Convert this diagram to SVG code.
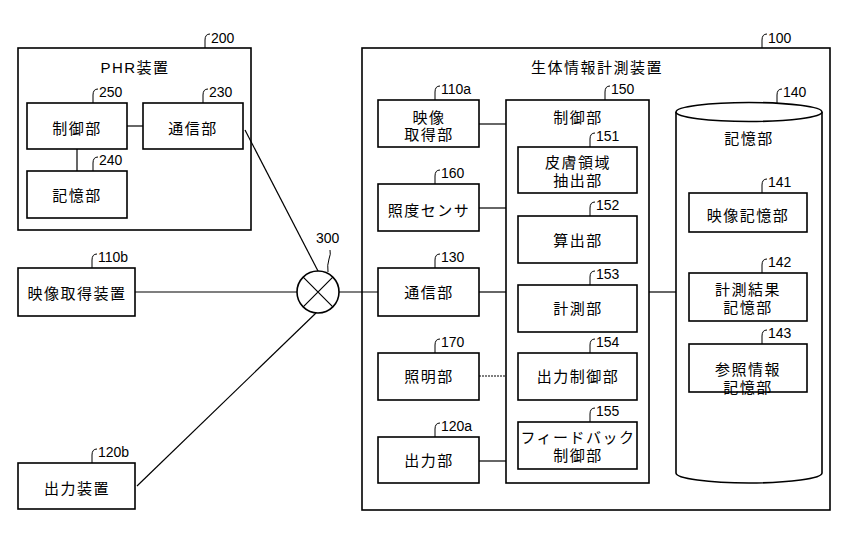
<svg xmlns="http://www.w3.org/2000/svg" width="849" height="543" viewBox="0 0 849 543">
<style>
.b{fill:#fff;stroke:#000;stroke-width:1.6}
.c{fill:none;stroke:#000;stroke-width:1.2}
.h{fill:none;stroke:#000;stroke-width:1}
.t{font-family:"Liberation Sans","Noto Sans CJK JP",sans-serif;font-size:15px;letter-spacing:1.5px;text-anchor:middle;fill:#000}
.n{font-family:"Liberation Sans",Arial,sans-serif;font-size:14px;fill:#000}
</style>
<defs>
<path id="hk" d="M0,0 L0,-8 Q0,-14 5,-14" class="h"/>
</defs>
<rect width="849" height="543" fill="#fff"/>

<g id="n200">
<rect class="b" x="18" y="48" width="233" height="182"/>
<text class="t" x="135" y="72.5">PHR装置</text>
<use href="#hk" x="205" y="48"/><text class="n" x="211" y="43">200</text>
</g>
<g id="n250">
<rect class="b" x="27" y="103" width="100" height="46"/>
<text class="t" x="77" y="133.5">制御部</text>
<use href="#hk" x="93" y="103"/><text class="n" x="99" y="97">250</text>
</g>
<g id="n230">
<rect class="b" x="143" y="103" width="100" height="46"/>
<text class="t" x="193" y="133.5">通信部</text>
<use href="#hk" x="203" y="103"/><text class="n" x="209" y="97">230</text>
</g>
<g id="n240">
<rect class="b" x="27" y="171" width="100" height="47"/>
<text class="t" x="77" y="200.5">記憶部</text>
<use href="#hk" x="93" y="171"/><text class="n" x="99" y="165">240</text>
</g>
<g id="n110b">
<rect class="b" x="18" y="268" width="117" height="48"/>
<text class="t" x="77" y="298.5">映像取得装置</text>
<use href="#hk" x="92" y="268"/><text class="n" x="98" y="262">110b</text>
</g>
<g id="n120b">
<rect class="b" x="18" y="463" width="117" height="46"/>
<text class="t" x="77" y="493.5">出力装置</text>
<use href="#hk" x="92" y="463"/><text class="n" x="98" y="457">120b</text>
</g>
<g id="n300">
<circle cx="318" cy="292" r="21" fill="#fff" stroke="#000" stroke-width="1.6"/>
<path class="c" d="M303.2,277.2 L332.8,306.8 M332.8,277.2 L303.2,306.8"/>
<path class="h" d="M328,272 Q327,265 329,259 Q331,254 330,250"/>
<text class="n" x="316" y="243">300</text>
</g>

<g id="n100">
<rect class="b" x="362" y="48" width="468" height="462"/>
<text class="t" x="597" y="72.5">生体情報計測装置</text>
<use href="#hk" x="762" y="48"/><text class="n" x="768" y="43">100</text>
</g>
<g id="n110a">
<rect class="b" x="378" y="100" width="101" height="47"/>
<text class="t"><tspan x="429" y="122.5">映像</tspan><tspan x="429" y="140">取得部</tspan></text>
<use href="#hk" x="435" y="100"/><text class="n" x="441" y="94">110a</text>
</g>
<g id="n160">
<rect class="b" x="378" y="184" width="101" height="47"/>
<text class="t" x="429" y="215.5">照度センサ</text>
<use href="#hk" x="435" y="184"/><text class="n" x="441" y="178">160</text>
</g>
<g id="n130">
<rect class="b" x="378" y="268" width="101" height="48"/>
<text class="t" x="429" y="297.5">通信部</text>
<use href="#hk" x="435" y="268"/><text class="n" x="441" y="262">130</text>
</g>
<g id="n170">
<rect class="b" x="378" y="353" width="101" height="47"/>
<text class="t" x="429" y="382">照明部</text>
<use href="#hk" x="435" y="353"/><text class="n" x="441" y="347">170</text>
</g>
<g id="n120a">
<rect class="b" x="378" y="437" width="101" height="46"/>
<text class="t" x="429" y="466">出力部</text>
<use href="#hk" x="435" y="437"/><text class="n" x="441" y="431">120a</text>
</g>
<g id="n150">
<rect class="b" x="506" y="100" width="143" height="383"/>
<text class="t" x="578" y="122.5">制御部</text>
<use href="#hk" x="605" y="100"/><text class="n" x="611" y="94">150</text>
</g>
<g id="n151">
<rect class="b" x="518" y="147" width="119" height="46"/>
<text class="t"><tspan x="578" y="168">皮膚領域</tspan><tspan x="578" y="185.5">抽出部</tspan></text>
<use href="#hk" x="590" y="147"/><text class="n" x="596" y="141">151</text>
</g>
<g id="n152">
<rect class="b" x="518" y="216" width="119" height="47"/>
<text class="t" x="578" y="245.5">算出部</text>
<use href="#hk" x="590" y="216"/><text class="n" x="596" y="210">152</text>
</g>
<g id="n153">
<rect class="b" x="518" y="285" width="119" height="47"/>
<text class="t" x="578" y="314">計測部</text>
<use href="#hk" x="590" y="285"/><text class="n" x="596" y="279">153</text>
</g>
<g id="n154">
<rect class="b" x="518" y="353" width="119" height="47"/>
<text class="t" x="578" y="382">出力制御部</text>
<use href="#hk" x="590" y="353"/><text class="n" x="596" y="347">154</text>
</g>
<g id="n155">
<rect class="b" x="518" y="422" width="119" height="47"/>
<text class="t"><tspan x="578" y="443">フィードバック</tspan><tspan x="578" y="460.5">制御部</tspan></text>
<use href="#hk" x="590" y="422"/><text class="n" x="596" y="416">155</text>
</g>
<g id="n140">
<path class="b" d="M676,112 L676,473 A73,10 0 0 0 822,473 L822,112"/>
<ellipse cx="749" cy="112" rx="73" ry="9.5" fill="#fff" stroke="#000" stroke-width="1.6"/>
<text class="t" x="749" y="143.5">記憶部</text>
<use href="#hk" x="777" y="103"/><text class="n" x="783" y="97">140</text>
</g>
<g id="n141">
<rect class="b" x="689" y="193" width="118" height="39"/>
<text class="t" x="748" y="220.5">映像記憶部</text>
<use href="#hk" x="762" y="193"/><text class="n" x="768" y="187">141</text>
</g>
<g id="n142">
<rect class="b" x="689" y="273" width="118" height="48"/>
<text class="t"><tspan x="748" y="295">計測結果</tspan><tspan x="748" y="312.5">記憶部</tspan></text>
<use href="#hk" x="762" y="273"/><text class="n" x="768" y="267">142</text>
</g>
<g id="n143">
<rect class="b" x="689" y="344" width="118" height="48"/>
<text class="t"><tspan x="748" y="375">参照情報</tspan><tspan x="748" y="392.5">記憶部</tspan></text>
<use href="#hk" x="762" y="344"/><text class="n" x="768" y="338">143</text>
</g>

<g id="connectors">
<path class="c" d="M127,126 L143,126"/>
<path class="c" d="M77,149 L77,171"/>
<path class="c" d="M245,130 L318,271"/>
<path class="c" d="M135,292 L297,292"/>
<path class="c" d="M137,486 L316,313"/>
<path class="c" d="M339,292 L378,292"/>
<path class="c" d="M479,124 L506,124"/>
<path class="c" d="M479,208 L506,208"/>
<path class="c" d="M479,292 L506,292"/>
<path class="c" d="M479,376 L506,376" stroke-dasharray="2,1"/>
<path class="c" d="M479,461 L506,461"/>
<path class="c" d="M649,292 L676,292"/>
</g>
</svg>
